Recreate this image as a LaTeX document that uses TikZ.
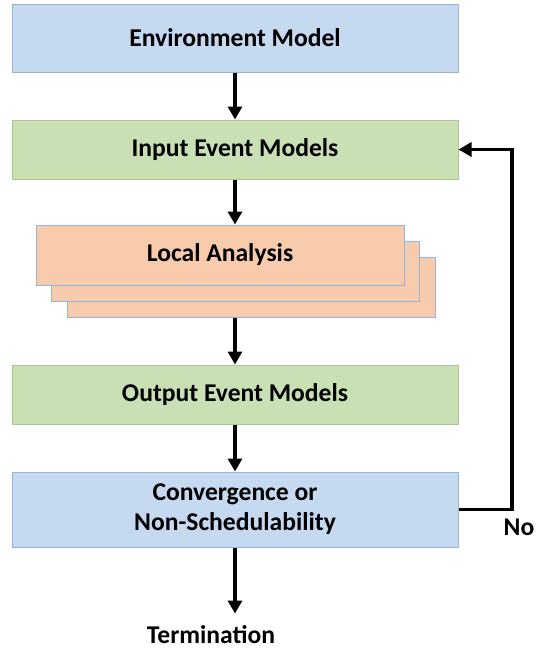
\documentclass[tikz,border=0pt]{standalone}
\usepackage{fontspec}
\setmainfont{Carlito}
\usetikzlibrary{arrows.meta}
\definecolor{envblue}{HTML}{C5D9F0}
\definecolor{evgreen}{HTML}{C9E0B5}
\definecolor{laorange}{HTML}{F8CBAD}
\definecolor{edgeblue}{HTML}{95B3D7}
\definecolor{edgegreen}{HTML}{A9C98F}

\begin{document}
\begin{tikzpicture}[x=0.5pt,y=-0.5pt,
      every node/.append style={font=\bfseries\fontsize{12.8}{15}\selectfont,align=center},
      flow/.style={line width=1.6pt,-{Triangle[length=6.5pt,width=7pt]}}]
    \tikzstyle{model} = [draw=edgeblue,fill=envblue,line width=0.5pt,
      minimum width=223pt,minimum height=29.5pt,inner sep=0pt]
    \tikzstyle{event} = [model,draw=edgegreen,fill=evgreen]
    \tikzstyle{analysis} = [model,fill=laorange,minimum width=184pt,minimum height=30pt]
    \useasboundingbox (0,0) rectangle (537,649);
    \node [model,minimum height=34pt] (env) at (235,38) {Environment Model};
    \node [event] (input) at (235,149.5) {Input Event Models};
    % stacked copies of the analysis box
    \node [analysis] (local3) at (251,287) {};
    \node [analysis] (local2) at (235.5,271) {};
    \node [analysis] (local) at (220,255) {Local Analysis};
    \node [event] (output) at (235,394.5) {Output Event Models};
    \node [model,minimum height=37.5pt] (conv) at (235,509.5) {Convergence or\\Non-Schedulability};
    \node [inner sep=1pt] (term) at (211,635) {Termination};
    \node (no) at (519,527) {No};
    \coordinate (turn) at (512,0);
    \draw [flow] (env) -- (input);
    \draw [flow] (input) -- (input |- local.north);
    \draw [flow] (input |- local3.south) -- (output);
    \draw [flow] (output) -- (conv);
    \draw [flow] (conv) -- ([yshift=5pt]term.north -| conv);
    \draw [flow] (conv.east) -- (conv.east -| turn) -- (input.east -| turn) -- (input.east);
  \end{tikzpicture}
\end{document}
